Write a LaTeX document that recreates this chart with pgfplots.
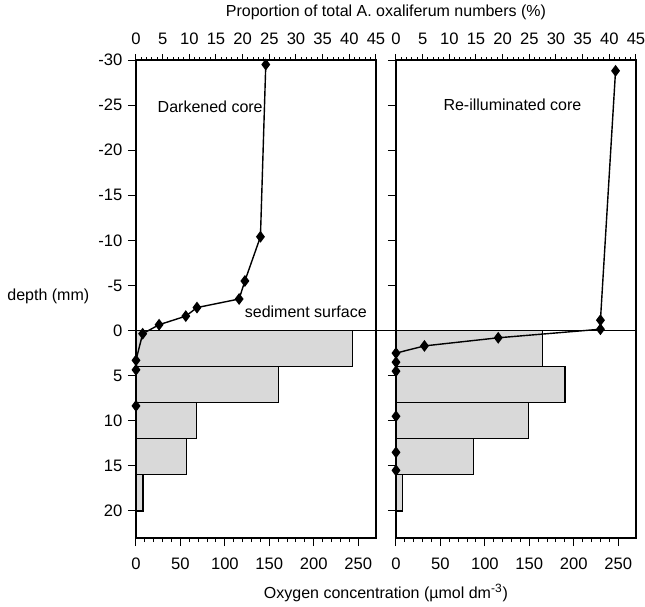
\documentclass[border=0pt]{standalone}
\usepackage{pgfplots}
\pgfplotsset{compat=1.18}
\usepackage{pgfplotstable}
\usepackage{fontspec}
\setmainfont{Liberation Sans}

% proportion of A. oxaliferum (%) per depth slice (mm)
\pgfplotstableread{
pct   depth
40.6  0
26.7  4
11.4  8
9.4   12
1.3   16
0     20
}\darkbars
\pgfplotstableread{
pct   depth
27.5  0
31.7  4
24.9  8
14.6  12
1.2   16
0     20
}\lightbars
% oxygen profiles
\pgfplotstableread{
oxy   depth
146   -29.5
140   -10.4
122.5 -5.5
116   -3.5
68.6  -2.55
56    -1.6
26    -0.65
7.5   0.35
0     3.3
0     4.35
0     8.35
}\darkoxy
\pgfplotstableread{
oxy   depth
247   -28.8
230   -1.15
230   -0.15
115   0.8
32    1.7
0     2.5
0     3.5
0     4.5
0     9.5
0     13.5
0     15.5
}\lightoxy

\pgfplotsset{
  panel/.style={
    scale only axis, width=120pt, height=239pt,
    ymin=-30, ymax=23, y dir=reverse,
    tick align=outside, clip=false,
    axis line style={line width=0.7pt},
    every tick/.style={black, line width=0.5pt},
    /pgf/number format/assume math mode=true,
    tick label style={font=\fontsize{8.3}{10}\selectfont},
  },
  pct/.style={panel,
    xmin=0, xmax=45, axis x line*=top, hide y axis,
    xtick={0,5,...,45}, minor x tick num=4,
    major tick length=3pt, minor tick length=1.5pt,
    xticklabel style={yshift=2pt},
  },
  oxy/.style={panel,
    xmin=0, xmax=270, xtick={0,50,...,250}, minor x tick num=4,
    ytick={-30,-25,...,20},
    xtick pos=left, ytick pos=left,
    major tick length=4pt, minor tick length=2pt,
    xticklabel style={yshift=-3pt},
  },
  bars/.style={xbar interval, fill=black!15, draw=black, line width=0.6pt},
  prof/.style={black, line width=0.7pt, mark=diamond*, mark size=2.4pt},
}

\begin{document}
\fontsize{8}{9.6}\selectfont
\begin{tikzpicture}
% left panel: darkened core
\begin{axis}[pct, at={(0,0)}, anchor=south west]
  \addplot[bars] table[x=pct, y=depth] {\darkbars};
\end{axis}
\begin{axis}[oxy, at={(0,0)}, anchor=south west]
  \addplot[prof] table[x=oxy, y=depth] {\darkoxy};
  \node[anchor=west] at (axis cs:18,-24.8) {Darkened core};
  \node[anchor=base east] at (axis cs:266,-1.45) {sediment surface};
  \node[anchor=east] at (axis description cs:-0.171,0.506) {depth (mm)};
  \node at (axis description cs:1.0417,-0.115) {Oxygen concentration (µmol dm\textsuperscript{-3})};
  \node at (axis description cs:1.0417,1.100) {Proportion of total A. oxaliferum numbers (\%)};
  \coordinate (sL) at (axis cs:0,0);
\end{axis}
% right panel: re-illuminated core
\begin{axis}[pct, at={(130pt,0)}, anchor=south west]
  \addplot[bars] table[x=pct, y=depth] {\lightbars};
\end{axis}
\begin{axis}[oxy, at={(130pt,0)}, anchor=south west, yticklabels={}]
  \addplot[prof] table[x=oxy, y=depth] {\lightoxy};
  \node at (axis cs:131,-25) {Re-illuminated core};
  \coordinate (sR) at (axis cs:270,0);
\end{axis}
\draw[line width=0.7pt] (sL) -- (sR);
\pgfresetboundingbox
\path[use as bounding box] (-68pt,-34.5pt) rectangle (254.5pt,269pt);
\end{tikzpicture}
\end{document}
